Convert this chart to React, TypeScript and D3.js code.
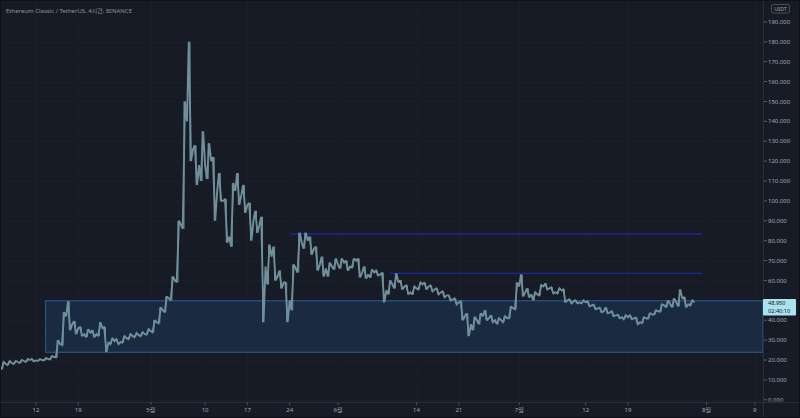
import React from 'react';
import * as d3 from 'd3';

const W = 800;
const H = 418;

// Daily OHLC (open = previous close), starting 2021-04-06
const startDay = [2021, 3, 6];
const firstOpen = 16;
const dailyHigh = [
  19, 19.5, 19.5, 20, 20.5, 20.5, 20.5, 21, 22, 30,
  44, 49.5, 39.5, 36.5, 35.5, 35, 39, 36.5, 31, 30.5,
  32, 33, 33.5, 34, 35.5, 40, 46.5, 52, 62, 90,
  150, 180, 128, 135, 129, 122, 114, 101, 109, 114,
  108, 99, 95, 92, 78, 77, 65, 59, 68, 84,
  84, 82, 77, 72, 69, 71, 71, 70, 71, 71,
  67, 65.5, 65, 64, 60, 63.5, 60, 57.5, 57, 59,
  59, 57.5, 56, 54.5, 52.5, 51, 49.5, 43.5, 41.7, 43.5,
  45, 42.5, 41, 42, 47, 59, 63, 56, 54, 57.7,
  58.5, 56.5, 56, 55.5, 50.5, 50, 50, 49.5, 47.8, 46.3,
  46.5, 44.5, 42.8, 42.5, 42.5, 41.3, 41.5, 43.5, 45, 48,
  50, 51, 55.5, 51.5, 50,
];
const dailyLow = [
  15.5, 17.5, 18, 18.5, 19, 19.3, 19.5, 19.8, 20.3, 21.3,
  27.5, 35, 33, 32, 31.5, 31.5, 32, 24, 28, 28,
  28.8, 30.5, 31.5, 32, 32.8, 34, 38.5, 44, 50, 59,
  86, 120, 108, 110, 111, 90, 100, 79, 77, 98,
  94, 80, 84, 39, 58, 60, 56, 39, 45, 64,
  76, 73, 65, 62, 62, 65.5, 66, 65, 66.5, 61.5,
  61, 61.5, 62.5, 49, 53, 56, 55.5, 53, 53, 55.5,
  55.5, 54.5, 53, 51.5, 50, 48, 40, 32, 35, 38,
  40, 39, 38, 39, 41, 45.5, 52, 51.5, 50, 52.5,
  55.5, 53.5, 53.5, 49, 48.5, 48.5, 48.5, 47, 45.5, 44,
  43.5, 42, 41, 40.5, 40.5, 38, 38.5, 40.8, 42.8, 44.3,
  46.5, 46.5, 47, 46.5, 47.5,
];
const dailyClose = [
  18, 18.5, 19, 19.5, 20, 19.8, 20, 20.5, 21.5, 28,
  42, 38, 36, 33, 33.5, 33, 36, 29, 29.5, 29,
  31, 32, 32.5, 33, 34.5, 39, 45, 51, 60, 88,
  140, 126, 118, 118, 120, 105, 100, 82, 105, 103,
  98, 90, 88, 67, 72, 62, 59, 50, 66, 79,
  80, 76, 68, 66, 67, 68, 69, 67, 70, 64,
  63, 64, 63, 55, 58, 59, 57, 54, 56, 58,
  57, 55.5, 54, 52.5, 50.5, 49, 42, 38, 40, 42,
  41, 40, 40, 41, 46, 57, 54, 53, 53, 57,
  56, 54, 55, 50, 49.5, 49, 49, 47.5, 46, 44.5,
  44, 42.5, 41.5, 41.5, 41, 39, 41, 43, 44.5, 47.5,
  48, 49, 51, 48, 48.95,
];

const yTickValues = [0, 10, 20, 30, 40, 50, 60, 70, 80, 90, 100, 110, 120, 130, 140, 150, 160, 170, 180, 190];
const xTickDates = [
  [2021, 3, 12], [2021, 3, 19], [2021, 4, 1], [2021, 4, 10], [2021, 4, 17], [2021, 4, 24],
  [2021, 5, 1], [2021, 5, 14], [2021, 5, 21], [2021, 6, 1], [2021, 6, 12], [2021, 6, 19],
  [2021, 7, 1], [2021, 7, 9],
];
const xTickLabels = ['12', '19', '5월', '10', '17', '24', '6월', '14', '21', '7월', '12', '19', '8월', '9'];

const title = 'Ethereum Classic / TetherUS, 4시간, BINANCE';
const lastPrice = 48.95;
const lastPriceLabel = '48.950';
const countdown = '02:40:10';
const zoneTop = 49.8;
const zoneBottom = 23.9;
const zoneStart = [2021, 3, 13, 14];
const line1Value = 83.3;
const line1Start = [2021, 4, 24, 5];
const line2Value = 63.6;
const line2Start = [2021, 5, 9, 14];
const linesEnd = [2021, 6, 31, 6];

const FONT = '"Noto Sans", "Noto Sans CJK KR", sans-serif';

export default function App() {
  const plotRight = 763;
  const axisY = 402;
  const x = d3
    .scaleTime()
    .domain([new Date(2021, 3, 12), new Date(2021, 7, 9)])
    .range([36, 754.8]);
  const y = d3.scaleLinear().domain([0, 190]).range([399.8, 21.9]);
  const mk = (a: number[]) => new Date(a[0], a[1], a[2], a[3] || 0);

  const start = mk(startDay);
  const candles = dailyClose.map((c, i) => {
    const day = d3.timeDay.offset(start, i);
    const open = i === 0 ? firstOpen : dailyClose[i - 1];
    return { day, open, close: c, high: dailyHigh[i], low: dailyLow[i] };
  });

  // OHLC path: open -> first extreme -> second extreme -> close, within each day's slot
  const pts: [number, number][] = [];
  candles.forEach((c) => {
    const up = c.close >= c.open;
    const seq = up ? [c.open, c.low, c.high, c.close] : [c.open, c.high, c.low, c.close];
    const hours = [0, 7, 16, 24];
    seq.forEach((v, k) => {
      if (k === 0 && pts.length > 0) return;
      pts.push([x(d3.timeHour.offset(c.day, hours[k])), y(v)]);
    });
  });
  const pathD = d3.line()(pts) || '';

  const candleColor = '#6f909b';
  const lastY = y(lastPrice);
  // tick labels hidden behind the last-price badge
  const visibleYTicks = yTickValues.filter((v) => Math.abs(y(v) - (lastY + 4.5)) > 11);

  return (
    <svg
      width={W}
      height={H}
      style={{ position: 'fixed', left: 0, top: 0, display: 'block' }}
      fontFamily={FONT}
    >
      <defs>
        <clipPath id="plot">
          <rect x={0} y={0} width={plotRight} height={axisY} />
        </clipPath>
        <clipPath id="yaxis">
          <rect x={plotRight} y={0} width={W - plotRight} height={axisY - 0.5} />
        </clipPath>
      </defs>
      <rect x={0} y={0} width={W} height={H} fill="#171b26" />

      {/* grid */}
      <g stroke="#1b1f2a" strokeWidth={1}>
        {xTickDates.map((d, i) => {
          const px = Math.round(x(mk(d))) + 0.5;
          return px < plotRight ? <line key={'gx' + i} x1={px} x2={px} y1={0} y2={axisY} /> : null;
        })}
        {yTickValues.map((v) => {
          const py = Math.round(y(v)) + 0.5;
          return <line key={'gy' + v} x1={0} x2={plotRight} y1={py} y2={py} />;
        })}
      </g>

      <g clipPath="url(#plot)">
        {/* zone rectangle */}
        <rect
          x={x(mk(zoneStart))}
          y={y(zoneTop)}
          width={plotRight - x(mk(zoneStart))}
          height={y(zoneBottom) - y(zoneTop)}
          fill="#1a2d47"
          fillOpacity={0.85}
          stroke="#28528c"
          strokeWidth={1.2}
        />
        {/* horizontal lines */}
        <line
          x1={x(mk(line1Start))}
          x2={x(mk(linesEnd))}
          y1={y(line1Value)}
          y2={y(line1Value)}
          stroke="#1b28a0"
          strokeWidth={1.5}
        />
        <line
          x1={x(mk(line2Start))}
          x2={x(mk(linesEnd))}
          y1={y(line2Value)}
          y2={y(line2Value)}
          stroke="#1b28a0"
          strokeWidth={1.3}
        />
        {/* price path drawn from daily OHLC */}
        <path
          d={pathD}
          fill="none"
          stroke={candleColor}
          strokeWidth={1.9}
          strokeLinejoin="miter"
          strokeMiterlimit={2}
        />
        {/* wicks */}
        {candles.map((c, i) => {
          const cx = x(d3.timeHour.offset(c.day, 12));
          return (
            <line
              key={'w' + i}
              x1={cx}
              x2={cx}
              y1={y(c.high)}
              y2={y(c.low)}
              stroke={candleColor}
              strokeWidth={1}
            />
          );
        })}
      </g>

      {/* axes lines */}
      <line x1={plotRight + 0.5} x2={plotRight + 0.5} y1={0} y2={H} stroke="#2a2e39" />
      <line x1={0} x2={W} y1={axisY + 0.5} y2={axisY + 0.5} stroke="#2a2e39" />
      <rect x={0.5} y={0.5} width={W - 1} height={H - 1} fill="none" stroke="#0f1118" />

      {/* y axis labels */}
      <g clipPath="url(#yaxis)">
        {yTickValues.map((v) => (
          <line key={'yt' + v} x1={plotRight + 1} x2={plotRight + 4} y1={y(v)} y2={y(v)} stroke="#5d606b" />
        ))}
        {visibleYTicks.map((v) => (
          <text key={'yl' + v} x={768} y={y(v)} dy="0.35em" fontSize={6} fill="#a3a6af">
            {v.toFixed(3)}
          </text>
        ))}
      </g>

      {/* last price label */}
      <rect x={plotRight} y={lastY - 3.5} width={33} height={16.5} fill="#a9e3ee" rx={1} />
      <text x={768} y={lastY + 0.3} dy="0.35em" fontSize={5.6} fill="#131722">
        {lastPriceLabel}
      </text>
      <text x={768} y={lastY + 8.6} dy="0.35em" fontSize={5.6} fill="#131722">
        {countdown}
      </text>

      {/* USDT badge */}
      <rect x={771.5} y={4.5} width={18} height={8.5} rx={1.5} fill="none" stroke="#4a4e59" />
      <text x={780.5} y={8.9} dy="0.35em" textAnchor="middle" fontSize={5} fill="#a3a6af">
        USDT
      </text>

      {/* x axis labels */}
      {xTickDates.map((d, i) => {
        const px = x(mk(d));
        return (
          <g key={'xl' + i}>
            <line x1={px} x2={px} y1={axisY} y2={axisY + 3} stroke="#4a4e59" />
            <text x={px} y={409.5} dy="0.35em" textAnchor="middle" fontSize={6} fill="#a3a6af">
              {xTickLabels[i]}
            </text>
          </g>
        );
      })}

      {/* title */}
      <text x={6} y={10.5} dy="0.35em" fontSize={6} fill="#8f939c">
        {title}
      </text>
    </svg>
  );
}
